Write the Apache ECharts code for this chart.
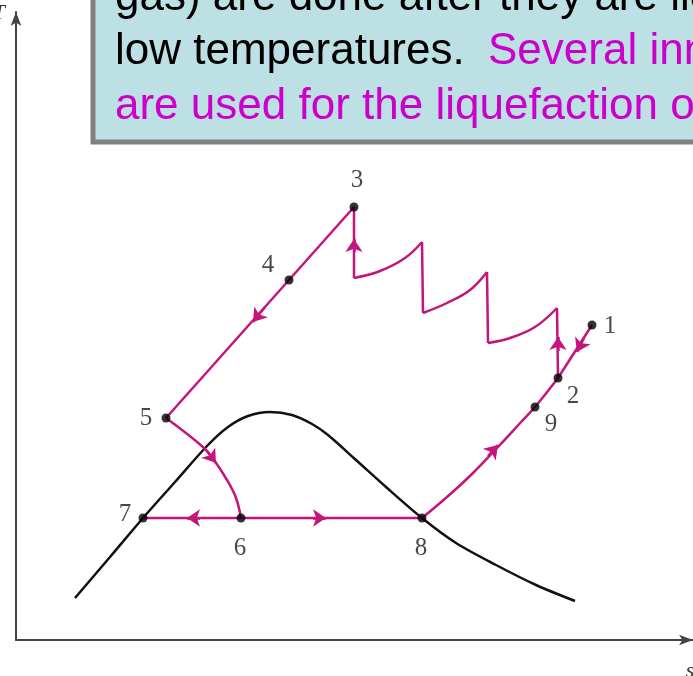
<!DOCTYPE html>
<html>
<head>
<meta charset="utf-8">
<script src="https://cdn.jsdelivr.net/npm/echarts@6/dist/echarts.min.js"></script>
<style>
  html, body { margin: 0; padding: 0; background: #fff; }
  #main { width: 693px; height: 676px; }
</style>
</head>
<body>
<div id="main"></div>
<script>
// state points of the cycle (s, T) in diagram units
const pointNames = ['1', '2', '3', '4', '5', '6', '7', '8', '9'];
const pointS = [576, 542, 338, 273, 150, 225, 127, 406, 519];
const pointT = [315, 262, 433, 360, 222, 122, 122, 122, 233];

// saturation dome
const domeS = [59, 94, 127, 159, 191, 212, 232, 254, 276, 296, 312, 340, 370, 406, 440, 480, 520, 559];
const domeT = [42, 83, 122, 158, 194, 213, 224, 228, 225, 216, 205, 180, 153, 122, 97, 75, 55, 39];

// 3 -> 4 -> 5 (heat exchanger cooling)
const coolS = [338, 273, 150];
const coolT = [433, 360, 222];
// 5 -> 6 (throttling)
const throttleS = [150, 187, 198, 211, 220, 225];
const throttleT = [222, 193, 180, 160, 142, 122];
// 7 <- 6 -> 8 (separation)
const splitS = [127, 406];
const splitT = [122, 122];
// 8 -> 9 -> 2 (regeneration)
const regenS = [406, 431, 456, 481, 506, 519, 542];
const regenT = [122, 143, 166, 192, 219, 233, 262];
// 1 -> 2 (makeup gas)
const makeupS = [576, 542];
const makeupT = [315, 262];
// 2 -> 3 multistage compression with intercooling
const compressionStages = [
  [[542, 262], [541, 332]],
  [[541, 332], [519, 313], [494, 302], [472, 297]],
  [[472, 297], [471, 368]],
  [[471, 368], [454, 350], [431, 337], [407, 327]],
  [[407, 327], [406, 398]],
  [[406, 398], [389, 382], [364, 369], [338, 362]],
  [[338, 362], [338, 433]]
];

// flow direction arrows: [from, to]
const arrows = [
  [[249, 333], [237, 318]],
  [[191, 189], [200, 177]],
  [[184, 122], [171, 122]],
  [[297, 122], [310, 122]],
  [[472, 184], [482, 195]],
  [[568, 302], [561, 288]],
  [[542, 289], [542, 303]],
  [[338, 388], [338, 401]]
];

const labelOffsets = {
  '1': [18, 1], '2': [15, 18], '3': [3, -27], '4': [-21, -15], '5': [-20, 0],
  '6': [-1, 30], '7': [-18, -4], '8': [-1, 30], '9': [16, 17]
};

const RED = '#c4157b';
const zip = (a, b) => a.map((v, i) => [v, b[i]]);

const redLine = (data, smooth) => ({
  type: 'line',
  data,
  smooth,
  symbol: 'none',
  silent: true,
  z: 3,
  lineStyle: { color: RED, width: 2.5 }
});

const chart = echarts.init(document.getElementById('main'));

const series = [
  {
    type: 'line',
    data: zip(domeS, domeT),
    smooth: 0.3,
    symbol: 'none',
    z: 2,
    lineStyle: { color: '#111', width: 2.5 }
  },
  redLine(zip(coolS, coolT), false),
  redLine(zip(throttleS, throttleT), 0.4),
  redLine(zip(splitS, splitT), false),
  redLine(zip(regenS, regenT), 0.4),
  redLine(zip(makeupS, makeupT), false),
  ...compressionStages.map((stage) => redLine(stage, 0.4)),
  {
    type: 'lines',
    coordinateSystem: 'cartesian2d',
    symbol: ['none', 'arrow'],
    symbolSize: 13,
    z: 4,
    lineStyle: { color: RED, width: 2.5, opacity: 1 },
    data: arrows.map((a) => ({ coords: a }))
  },
  {
    type: 'scatter',
    symbol: 'circle',
    symbolSize: 9,
    z: 5,
    itemStyle: { color: '#000' },
    data: pointNames.map((n, i) => ({
      name: n,
      value: [pointS[i], pointT[i]],
      label: { offset: labelOffsets[n] }
    })),
    label: {
      show: true,
      position: 'inside',
      formatter: '{b}',
      color: '#1a1a1a',
      fontFamily: 'Liberation Serif',
      fontSize: 25
    }
  }
];

chart.setOption({
  animation: false,
  backgroundColor: '#fff',
  grid: { left: 16, right: 0, top: 12, bottom: 36, containLabel: false, outerBoundsMode: 'none' },
  xAxis: {
    type: 'value',
    min: 0,
    max: 677,
    name: 's',
    nameLocation: 'end',
    nameGap: -3,
    nameTextStyle: {
      fontFamily: 'Liberation Serif', fontSize: 22, fontStyle: 'italic', color: '#333',
      align: 'center', verticalAlign: 'top', padding: [20, 0, 0, 0]
    },
    axisLine: { show: true, symbol: ['none', 'arrow'], symbolSize: [8, 14], lineStyle: { color: '#444', width: 2 } },
    axisTick: { show: false },
    axisLabel: { show: false },
    splitLine: { show: false }
  },
  yAxis: {
    type: 'value',
    min: 0,
    max: 628,
    name: 'T',
    nameLocation: 'end',
    nameGap: -12,
    nameTextStyle: {
      fontFamily: 'Liberation Serif', fontSize: 22, fontStyle: 'italic', color: '#333',
      align: 'right', padding: [0, 11, 0, 0]
    },
    axisLine: { show: true, symbol: ['none', 'arrow'], symbolSize: [8, 14], lineStyle: { color: '#444', width: 2 } },
    axisTick: { show: false },
    axisLabel: { show: false },
    splitLine: { show: false }
  },
  graphic: [
    {
      type: 'rect',
      z: 10,
      shape: { x: 93, y: -20, width: 720, height: 162 },
      style: { fill: '#bde0e4', stroke: '#808080', lineWidth: 5 }
    },
    {
      type: 'text', z: 11,
      style: { x: 115, y: -2, text: 'gas) are done after they are liquefied', font: '44px "Liberation Sans"', fill: '#000', verticalAlign: 'middle' }
    },
    {
      type: 'text', z: 11,
      style: { x: 115, y: 52, text: 'low temperatures.', font: '44px "Liberation Sans"', fill: '#000', verticalAlign: 'middle' }
    },
    {
      type: 'text', z: 11,
      style: { x: 488, y: 52, text: 'Several innovative cycles', font: '44px "Liberation Sans"', fill: '#cc00cc', verticalAlign: 'middle' }
    },
    {
      type: 'text', z: 11,
      style: { x: 115, y: 107, text: 'are used for the liquefaction of gases.', font: '44px "Liberation Sans"', fill: '#cc00cc', verticalAlign: 'middle' }
    }
  ],
  series
});
</script>
</body>
</html>
